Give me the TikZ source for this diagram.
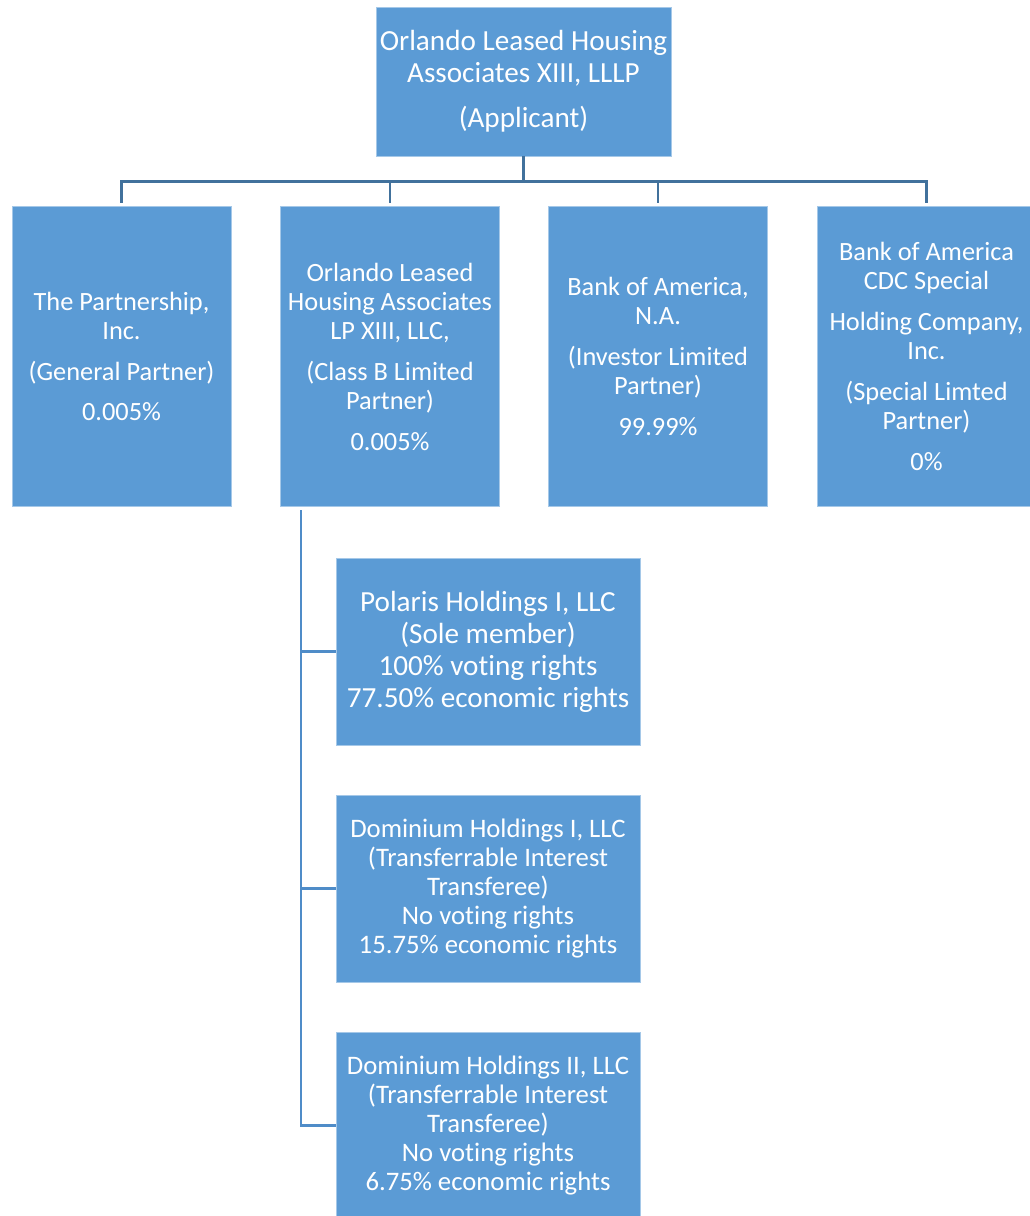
\documentclass[tikz,border=0pt]{standalone}
\usepackage{fontspec}
\setmainfont[Ligatures={NoCommon}]{Carlito}
\usepackage{tikz}
\usetikzlibrary{positioning}

\definecolor{orgfill}{HTML}{5B9BD5}
\definecolor{orgline}{HTML}{41719C}
\definecolor{treeline}{HTML}{4F8CC8}

\tikzset{
	orgbox/.style={fill=orgfill, draw=orgfill!55!white, line width=0.5pt, text=white,
		align=center, inner sep=0pt},
	partner/.style={orgbox, minimum width=4.38cm, minimum height=6cm,
		font=\fontsize{15}{16.5}\selectfont},
	member/.style={orgbox, minimum width=6.08cm, minimum height=3.74cm,
		font=\fontsize{15.2}{16.5}\selectfont},
	conn/.style={draw=orgline, line width=1.6pt},
	tree/.style={draw=treeline, line width=1.6pt}
}

\begin{document}
\begin{tikzpicture}[x=0.02cm, y=-0.02cm]
	\useasboundingbox (0,0) rectangle (1029,1216);
	
	\node[orgbox, minimum width=5.9cm, minimum height=2.98cm, font=\fontsize{16.6}{18.2}\selectfont] (app) at (523.5,81.5)
		{Orlando Leased Housing\\Associates XIII, LLLP\\[0.26cm](Applicant)};
	
	\node[partner] (gp) at (121.5,356.5) {The Partnership,\\Inc.\\[0.24cm](General Partner)\\[0.22cm]0.005\%};
	\node[partner] (lp) at (390,356.5) {Orlando Leased\\Housing Associates\\LP XIII, LLC,\\[0.24cm](Class B Limited\\Partner)\\[0.24cm]0.005\%};
	\node[partner] (il) at (658,356.5) {Bank of America,\\N.A.\\[0.24cm](Investor Limited\\Partner)\\[0.24cm]99.99\%};
	\node[partner] (sl) at (926.5,356.5) {Bank of America\\CDC Special\\[0.24cm]Holding Company,\\Inc.\\[0.24cm](Special Limted\\Partner)\\[0.24cm]0\%};
	
	\node[member, font=\fontsize{16.6}{18.2}\selectfont] (polaris) at (488,651.5)
		{Polaris Holdings I, LLC\\(Sole member)\\100\% voting rights\\77.50\% economic rights};
	\node[member] (dom1) at (488,888.5)
		{Dominium Holdings I, LLC\\(Transferrable Interest\\Transferee)\\No voting rights\\15.75\% economic rights};
	\node[member] (dom2) at (488,1125.5)
		{Dominium Holdings II, LLC\\(Transferrable Interest\\Transferee)\\No voting rights\\6.75\% economic rights};
	
	% applicant to partners
	\foreach \n in {gp,lp,il,sl}
		\draw[conn] (app.south) -- ++(0,25) -| ([yshift=1.5pt]\n.north);
	
	% class B members
	\coordinate (trunk) at (301,510);
	\draw[tree] (trunk) |- (dom2.west);
	\foreach \m in {polaris,dom1}
		\draw[tree] (trunk |- \m.west) -- (\m.west);
\end{tikzpicture}
\end{document}
